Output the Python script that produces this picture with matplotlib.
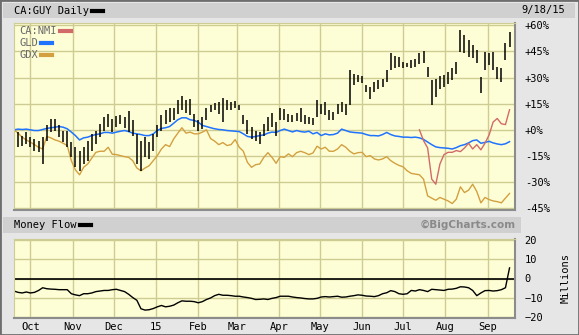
import matplotlib.pyplot as plt
from matplotlib.lines import Line2D
from matplotlib.patches import Rectangle
import pandas as pd

# one sample every 3 calendar days, 2014-09-19 .. 2015-09-17
dates = pd.date_range('2014-09-19', periods=122, freq='3D')

# CA:GUY, % change, high / low of each bar
guy_high = [6.9, -1.3, -3.3, -1.3, -4.2, -5.2, -6.2, -4.0, 2.5, 6.3,
            6.3, 2.5, -0.4, -0.4, -7.1, -10.0, -11.9, -10.0, -6.2, -2.3,
            -0.4, 3.5, 7.3, 8.8, 6.0, 7.7, 8.3, 7.3, 10.8, 5.4,
            -2.3, -6.2, -4.2, -7.1, -2.3, 2.5, 8.3, 11.5, 12.7, 12.7,
            16.9, 19.2, 17.3, 17.9, 9.2, 5.4, 7.3, 12.7, 14.5, 15.4,
            16.0, 18.5, 16.9, 16.0, 16.5, 14.0, 8.3, 5.4, 1.9, -0.4,
            -1.3, 3.1, 7.3, 9.6, 4.4, 12.7, 12.1, 9.2, 8.3, 9.6,
            12.7, 8.3, 7.3, 7.0, 16.9, 14.6, 16.0, 11.2, 10.2, 15.0,
            16.0, 14.6, 34.2, 32.3, 31.3, 30.8, 25.6, 24.6, 27.5, 28.8,
            29.4, 34.2, 43.8, 42.3, 41.9, 39.0, 38.5, 40.0, 40.4, 43.8,
            45.4, 36.2, 28.5, 29.4, 30.8, 31.3, 33.3, 35.2, 39.0, 57.3,
            54.4, 51.5, 48.7, 45.8, 30.4, 44.8, 43.8, 44.8, 36.2, 35.2,
            49.6, 56.3]
guy_low = [-0.4, -9.6, -9.0, -8.1, -10.0, -11.9, -12.9, -19.6, -6.2, -1.3,
           -0.4, -4.2, -7.1, -10.0, -15.8, -21.5, -23.5, -19.6, -17.7, -11.9,
           -8.1, -4.2, -0.4, 1.5, -1.0, 1.9, 3.1, 1.2, -1.3, -3.3,
           -19.6, -23.5, -15.8, -16.7, -11.9, -4.2, -0.4, 3.1, 4.4, 5.4,
           9.2, 11.5, 9.6, 8.3, 1.9, -0.4, 0.6, 5.8, 10.0, 11.2,
           9.2, 4.4, 11.5, 11.5, 12.7, 11.2, 3.5, -2.3, -5.2, -6.2,
           -8.1, -3.3, -0.4, 1.9, -3.3, 5.4, 5.8, 4.4, 4.4, 5.0,
           4.4, 3.5, 3.1, 2.5, 7.3, 9.2, 8.3, 5.8, 5.4, 9.2,
           10.2, 8.3, 14.0, 25.6, 27.5, 26.9, 21.7, 17.9, 21.7, 23.7,
           24.6, 27.5, 34.2, 35.2, 36.2, 35.2, 35.8, 35.5, 36.2, 37.7,
           38.5, 30.4, 14.0, 18.7, 23.7, 24.6, 26.5, 28.5, 32.3, 44.8,
           43.8, 41.9, 41.0, 38.1, 21.2, 34.2, 37.1, 34.2, 29.4, 27.5,
           40.0, 47.7]

gld = [0, 0.4, 0.2, 0.4, 0, -0.4, -0.4, 0.2, 0.8, 1.2,
       1.5, 1.9, 1.5, 0.6, -1.3, -3.3, -5.8, -4.6, -4.2, -3.3,
       -2.7, -2.3, -1.5, -1.5, -1.9, -1.3, -0.8, -0.4, -1.0, -1.9,
       -2.3, -2.7, -3.3, -3.3, -2.3, -0.4, 0.8, 1.2, 1.9, 3.8,
       5.8, 6.9, 6.9, 5.8, 5.4, 4.4, 2.5, 1.9, 1.2, 0.6,
       0.2, 0, -0.4, -0.6, -0.8, -1.0, -2.3, -3.8, -4.2, -3.8,
       -3.3, -2.9, -1.9, -1.3, -1.5, -0.4, 0.4, -0.4, -1.2, -0.4,
       -1.0, -1.3, -0.8, -2.3, -1.5, -3.3, -2.3, -2.9, -2.7, -1.9,
       0.4, -0.4, -1.2, -1.5, -1.7, -1.9, -2.7, -3.3, -3.3, -3.5,
       -2.7, -1.5, -2.7, -3.5, -3.8, -4.2, -4.2, -4.4, -4.2, -4.6,
       -5.5, -7.0, -8.5, -9.8, -10.2, -10.4, -10.6, -11.0, -10.2, -9.1,
       -8.5, -7.5, -6.2, -5.8, -7.7, -7.2, -6.6, -7.5, -8.1, -8.5,
       -8.0, -6.8]

gdx = [0, -1.9, -4.2, -5.8, -7.1, -8.5, -10.0, -11.0, -3.8, -4.6,
       -5.8, -6.5, -7.7, -9.0, -17.7, -23.0, -25.8, -21.5, -19.6, -16.2,
       -12.9, -12.3, -12.3, -10.0, -14.0, -14.2, -14.8, -15.4, -15.8, -17.7,
       -21.9, -23.5, -21.9, -20.6, -17.7, -14.8, -11.0, -8.5, -9.6, -5.2,
       -1.9, 1.2, -1.9, -1.3, -2.3, -2.3, -1.3, 0.0, -5.0, -6.5,
       -8.5, -7.3, -9.0, -8.5, -5.6, -10.0, -12.3, -18.7, -21.5, -20.0,
       -19.6, -15.8, -13.1, -15.8, -19.2, -15.4, -15.8, -13.8, -15.4, -13.1,
       -12.3, -13.1, -14.2, -13.3, -9.4, -11.0, -10.0, -12.3, -12.3, -11.0,
       -8.5, -10.0, -12.3, -13.8, -13.1, -12.9, -15.4, -14.8, -16.7, -17.3,
       -16.7, -15.4, -17.7, -19.2, -20.4, -21.2, -23.5, -25.0, -25.4, -25.8,
       -28.3, -37.9, -39.2, -40.4, -38.8, -39.8, -40.8, -42.3, -39.8, -32.7,
       -36.0, -34.6, -31.2, -35.4, -41.9, -38.8, -40.0, -40.8, -41.2, -41.9,
       -39.2, -36.5]

# CA:NMI only starts trading in July 2015 (sample 99 onwards)
nmi_start = 99
nmi = [0, -6.2, -10.4, -28.3, -31.2, -19.6, -14.2, -12.9, -12.9, -11.9,
       -12.5, -10.4, -7.7, -11.0, -8.5, -11.5, -7.7, -3.0, 4.5, 6.5,
       3.5, 3.0, 11.5]

# money flow, millions
money_flow = [-6.5, -7.2, -7.5, -7.0, -7.5, -7.2, -6.2, -4.8, -5.3, -5.5,
              -5.6, -5.8, -5.8, -5.8, -7.9, -8.5, -8.9, -7.9, -7.9, -7.5,
              -6.8, -6.5, -6.2, -6.2, -5.8, -5.6, -6.2, -6.8, -8.2, -9.9,
              -11.3, -15.7, -16.4, -16.2, -15.6, -14.7, -14.0, -14.7, -14.4, -13.8,
              -12.6, -11.6, -11.8, -11.8, -12.0, -12.6, -12.0, -10.9, -10.1, -8.9,
              -8.2, -8.7, -8.7, -8.9, -9.2, -9.2, -9.6, -9.9, -10.3, -10.9,
              -10.8, -10.6, -10.9, -10.3, -9.9, -9.2, -9.2, -9.2, -9.6, -9.9,
              -10.1, -10.4, -10.6, -10.6, -10.3, -9.6, -9.4, -9.6, -9.4, -9.2,
              -9.7, -9.6, -9.2, -8.9, -8.5, -8.7, -9.1, -9.2, -9.4, -8.9,
              -7.9, -7.4, -6.3, -6.8, -7.9, -8.2, -7.9, -6.2, -6.5, -5.8,
              -6.2, -6.8, -5.6, -5.8, -6.0, -6.2, -5.6, -5.5, -5.1, -4.3,
              -4.4, -4.8, -6.2, -8.9, -7.5, -6.3, -6.2, -6.5, -6.3, -5.8,
              -4.8, 5.5]

month_starts = pd.date_range('2014-10-01', '2015-09-01', freq='MS')
month_labels = ['Oct', 'Nov', 'Dec', '15', 'Feb', 'Mar', 'Apr', 'May', 'Jun', 'Jul', 'Aug', 'Sep']
pct_ticks = [-45, -30, -15, 0, 15, 30, 45, 60]
pct_labels = ['-45%', '-30%', '-15%', '+0%', '+15%', '+30%', '+45%', '+60%']
mf_ticks = [-20, -10, 0, 10, 20]
legend_names = ['CA:NMI', 'GLD', 'GDX']

mono = 'DejaVu Sans Mono'
fs = 7.5
W, H = 579, 335
bg = '#fefed6'
gridc = '#cdcd93'
col_gld = '#1f73ff'
col_gdx = '#d3a040'
col_nmi = '#d26a6a'

fig = plt.figure(figsize=(W / 100, H / 100), dpi=100, facecolor='#e6e6e6')

def px(x0, y0, w, h):
    return [x0 / W, 1 - (y0 + h) / H, w / W, h / H]

def fy(y):
    return 1 - y / H

# header bands
fig.add_artist(Rectangle((3 / W, fy(18)), 572 / W, 15 / H, transform=fig.transFigure,
                         facecolor='#d0d0d0', edgecolor='none'))
fig.add_artist(Rectangle((3 / W, fy(233)), 518 / W, 16 / H, transform=fig.transFigure,
                         facecolor='#d0d0d0', edgecolor='none'))
fig.add_artist(Rectangle((0, 0), 1, 1, transform=fig.transFigure, fill=False,
                         edgecolor='#6e6e6e', lw=2))

fig.text(14 / W, fy(10.5), 'CA:GUY Daily', va='center', family=mono, size=fs)
fig.add_artist(Line2D([92 / W, 103 / W], [fy(10.5)] * 2, lw=3, color='k'))
fig.text(565 / W, fy(10.5), '9/18/15', va='center', ha='right', family=mono, size=fs)
fig.text(14 / W, fy(225), 'Money Flow', va='center', family=mono, size=fs)
fig.add_artist(Line2D([80 / W, 91 / W], [fy(225)] * 2, lw=3, color='k'))
fig.text(516 / W, fy(225), '\u00a9BigCharts.com', va='center', ha='right',
         size=7.5, weight='bold', color='#8a8a8a')
fig.text(566 / W, fy(278), 'Millions', rotation=90, va='center', ha='center',
         family=mono, size=fs)


def style(ax):
    ax.set_facecolor(bg)
    ax.set_xticks(month_starts)
    ax.grid(True, color=gridc, lw=1)
    ax.set_axisbelow(True)
    ax.yaxis.tick_right()
    ax.tick_params(length=0, labelsize=fs, pad=7)
    for s in ['left', 'top']:
        ax.spines[s].set_color(gridc)
    for s in ['right', 'bottom']:
        ax.spines[s].set_color('#8c8c8c')
        ax.spines[s].set_linewidth(1.5)
    ax.set_xlim(pd.Timestamp('2014-09-19'), pd.Timestamp('2015-09-21'))
    for lab in ax.get_yticklabels() + ax.get_xticklabels():
        lab.set_family(mono)


# main panel
ax = fig.add_axes(px(14, 23, 501, 187))
ax.plot(dates, gdx, color=col_gdx, lw=1)
ax.plot(dates, gld, color=col_gld, lw=1.1)
ax.plot(dates[nmi_start:], nmi, color=col_nmi, lw=1)
ax.vlines(dates, guy_low, guy_high, color='k', lw=1.1)
ax.set_ylim(-46, 61.3)
ax.set_yticks(pct_ticks)
ax.set_yticklabels(pct_labels)
style(ax)
ax.tick_params(labelbottom=False)

# legend: name first, colour dash after it
for k, (name, c) in enumerate(zip(legend_names, [col_nmi, col_gld, col_gdx])):
    y = fy(31 + 12 * k)
    fig.text(19 / W, y, name, va='center', family=mono, size=fs, color='#6a6a6a')
    x0 = 19 + 6.1 * len(name) + 4
    fig.add_artist(Line2D([x0 / W, (x0 + 11) / W], [y, y], lw=3, color=c))

# money flow panel
ax2 = fig.add_axes(px(14, 239, 501, 79))
ax2.axhline(0, color='k', lw=1.2)
ax2.plot(dates, money_flow, color='k', lw=1)
ax2.set_ylim(-20.5, 20.5)
ax2.set_yticks(mf_ticks)
ax2.set_xticklabels(month_labels)
style(ax2)
ax2.tick_params(axis='x', pad=3)

fig.savefig('out.png', dpi=100, facecolor=fig.get_facecolor())
